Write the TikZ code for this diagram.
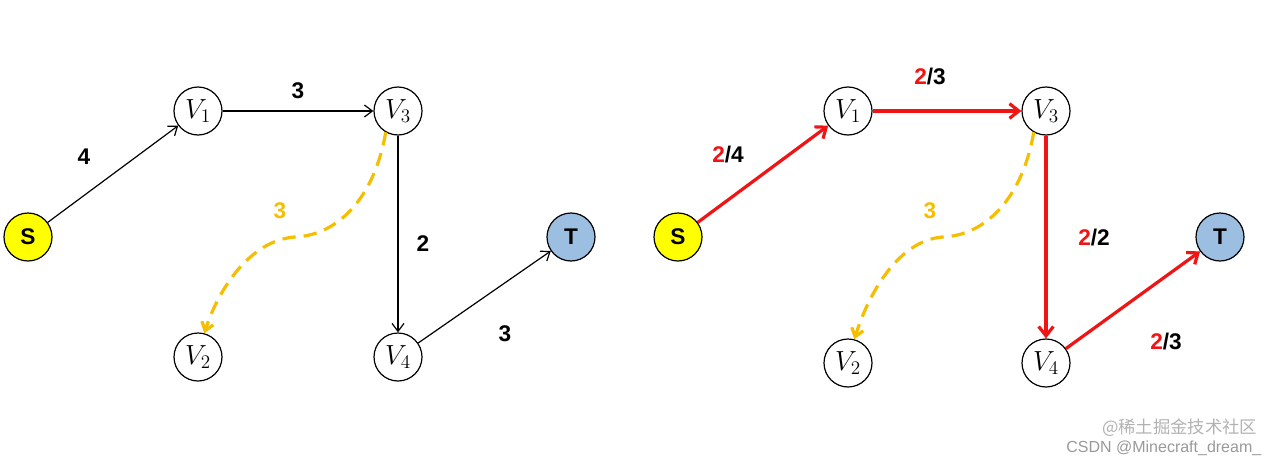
\documentclass[tikz,border=0pt]{standalone}
\usepackage{fontspec}
\setsansfont{Liberation Sans}
\newfontfamily\cjkfont{Noto Sans CJK SC}
\usetikzlibrary{arrows.meta}
\definecolor{sYellow}{RGB}{255,255,0}
\definecolor{tBlue}{RGB}{155,190,225}
\definecolor{dashGold}{RGB}{245,190,0}
\definecolor{flowRed}{RGB}{240,20,20}
\tikzset{
  vertex/.style={circle,draw,line width=0.9pt,minimum size=36pt,inner sep=0pt,fill=white,font=\fontsize{20}{22}\selectfont},
  capacity/.style={font=\sffamily\bfseries\fontsize{17}{20}\selectfont},
  plain/.style={-{Straight Barb[length=6pt,width=9pt]},line width=0.9pt},
  flow/.style={-{Straight Barb[length=7pt,width=11pt]},line width=2.4pt,flowRed},
  back/.style={-{Straight Barb[length=6pt,width=9pt]},line width=2.4pt,dashGold,dash pattern=on 10pt off 6pt}
}
\begin{document}
\begin{tikzpicture}[x=0.75pt,y=0.75pt,yscale=-1,xscale=1]
\useasboundingbox (0,0) rectangle (1278,464);

%Left graph
\node[vertex,fill=sYellow,font=\sffamily\bfseries\fontsize{17}{20}\selectfont] (s) at (28,237) {S};
\node[vertex] (v1) at (198,111) {$V_1$};
\node[vertex] (v3) at (398,111) {$V_3$};
\node[vertex] (v2) at (198,357) {$V_2$};
\node[vertex] (v4) at (398,357) {$V_4$};
\node[vertex,fill=tBlue,font=\sffamily\bfseries\fontsize{17}{20}\selectfont] (t) at (571,237) {T};

\draw[plain] (s) -- (v1);
\draw[plain] (v1) -- (v3);
\draw[plain] (v3) -- (v4);
\draw[plain] (v4) -- (t);
\draw[back] (v3.240) .. controls (375,195) and (340,235) .. (295,237) .. controls (250,240) and (218,290) .. (v2.75);

\node[capacity] (c1) at (84,157) {4};
\node[capacity] (c2) at (298,91) {3};
\node[capacity] (c3) at (423,244) {2};
\node[capacity] (c4) at (505,334) {3};
\node[capacity,dashGold] (c5) at (280,211) {3};

%Right graph
\node[vertex,fill=sYellow,font=\sffamily\bfseries\fontsize{17}{20}\selectfont] (rs) at (678,237) {S};
\node[vertex] (rv1) at (848,111) {$V_1$};
\node[vertex] (rv3) at (1046,111) {$V_3$};
\node[vertex] (rv2) at (848,363) {$V_2$};
\node[vertex] (rv4) at (1046,363) {$V_4$};
\node[vertex,fill=tBlue,font=\sffamily\bfseries\fontsize{17}{20}\selectfont] (rt) at (1220,237) {T};

\draw[flow] (rs) -- (rv1);
\draw[flow] (rv1) -- (rv3);
\draw[flow] (rv3) -- (rv4);
\draw[flow] (rv4) -- (rt);
\draw[back] (rv3.240) .. controls (1023,195) and (988,235) .. (943,237) .. controls (898,240) and (868,295) .. (rv2.75);

\node[capacity] (r1) at (728,155) {\textcolor{flowRed}{2}/4};
\node[capacity] (r2) at (930,77) {\textcolor{flowRed}{2}/3};
\node[capacity] (r3) at (1094,238) {\textcolor{flowRed}{2}/2};
\node[capacity] (r4) at (1166,342) {\textcolor{flowRed}{2}/3};
\node[capacity,dashGold] (r5) at (930,211) {3};

%Watermark
\node[anchor=east,gray!60,font=\cjkfont\fontsize{13}{15}\selectfont] (wm1) at (1262,428) {@稀土掘金技术社区};
\node[anchor=east,gray!80,font=\sffamily\fontsize{12}{14}\selectfont] (wm2) at (1266,448) {CSDN @Minecraft\_dream\_};
\end{tikzpicture}
\end{document}
